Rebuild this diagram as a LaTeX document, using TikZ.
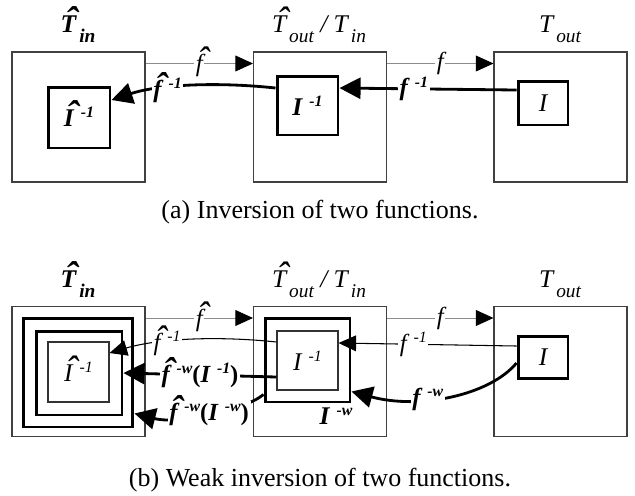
\documentclass[tikz,border=0pt]{standalone}
\usepackage{fontspec}
\usepackage{graphicx}
\setmainfont{Liberation Serif}
\usetikzlibrary{arrows.meta}

\newcommand\hatl[1]{\ooalign{#1\cr\hidewidth\kern0.3em\raisebox{-0.04em}{\scalebox{1.5}{\char"02C6}}\hidewidth\cr}}
\newcommand\sub[1]{\kern0.12em\raisebox{-0.42em}{\fontsize{11}{11}\selectfont #1}}
\newcommand\sps[1]{\kern0.28em\raisebox{0.36em}{\fontsize{9}{9}\selectfont #1}}

\begin{document}
\begin{tikzpicture}[x=0.02cm, y=-0.02cm,
        spacebox/.style={draw=black!75, line width=0.6pt, minimum width=2.66cm, minimum height=2.6cm, inner sep=0pt},
        heavybox/.style={draw, line width=1.7pt, inner sep=0pt, font=\fontsize{14.5}{16}\selectfont\bfseries\itshape},
        lightbox/.style={draw=black!80, line width=0.6pt, inner sep=0pt, font=\fontsize{14.5}{16}\selectfont\itshape},
        boxtitle/.style={anchor=base, inner sep=0pt, font=\fontsize{14.5}{16}\selectfont\itshape},
        fwd/.style={draw=black!45, line width=0.5pt, -{Triangle[length=10pt, width=9pt, black]}},
        back/.style={line width=0.6pt, -{Triangle[length=10pt, width=9pt]}},
        boldback/.style={line width=1.6pt, -{Triangle[length=12pt, width=12pt]}},
        lab/.style={fill=white, inner sep=1pt, font=\fontsize{14}{16}\selectfont\itshape},
        labb/.style={lab, font=\fontsize{14}{16}\selectfont\bfseries\itshape},
        capt/.style={inner sep=0pt, font=\fontsize{14.8}{17}\selectfont},
    ]
        \useasboundingbox (0,0) rectangle (635,495);

        % (a)
        \node[spacebox] (tin) at (78.5,117) {};
        \node[spacebox] (tmid) at (320,117) {};
        \node[spacebox] (tout) at (560.5,117) {};
        \node[boxtitle] (ttin) at (78,32) {\bfseries\hatl{T}\sub{in}};
        \node[boxtitle] (ttmid) at (319,32) {\hatl{T}\sub{out} / T\sub{in}};
        \node[boxtitle] (ttout) at (560,32) {T\sub{out}};

        \node[heavybox, minimum width=1.24cm, minimum height=1.22cm] (ihat) at (79,117.5) {\hatl{I}\sps{-1}};
        \node[heavybox, minimum width=1.22cm, minimum height=1.18cm] (iinv) at (307.5,105.5) {I\sps{-1}};
        \node[heavybox, font=\fontsize{14.5}{16}\selectfont\itshape, minimum width=1.0cm, minimum height=0.88cm] (ione) at (543,103) {I};

        \draw[fwd] ([yshift=-0.24cm]tin.north east) -- node[lab] {\hatl{f}} ([yshift=-0.24cm]tmid.north west);
        \draw[fwd] ([yshift=-0.24cm]tmid.north east) -- node[lab] {f} ([yshift=-0.24cm]tout.north west);
        \draw[boldback] ([yshift=0.26cm]ione.west) -- node[labb, pos=0.58] {f\sps{-1}} ([yshift=0.35cm]iinv.east);
        \draw[boldback] ([yshift=0.35cm]iinv.west) .. controls (220,82) and (160,84) .. node[labb, pos=0.64] {\hatl{f}\sps{-1}} ([yshift=0.35cm]ihat.east);

        \node[capt] (capa) at (320,212) {(a) Inversion of two functions.};

        % (b)
        \node[spacebox] (win) at (78.5,371.5) {};
        \node[spacebox] (wmid) at (320,371.5) {};
        \node[spacebox] (wout) at (560.5,371.5) {};
        \node[boxtitle] (twin) at (78,287) {\bfseries\hatl{T}\sub{in}};
        \node[boxtitle] (twmid) at (319,287) {\hatl{T}\sub{out} / T\sub{in}};
        \node[boxtitle] (twout) at (560,287) {T\sub{out}};

        \node[heavybox, minimum width=2.2cm, minimum height=2.18cm] (wrim) at (78,372.5) {};
        \node[heavybox, minimum width=1.72cm, minimum height=1.68cm] (wcore) at (79,373) {};
        \node[lightbox, minimum width=1.22cm, minimum height=1.2cm] (whatinv) at (78.5,372) {\hatl{I}\sps{-1}};
        \node[heavybox, minimum width=1.7cm, minimum height=1.68cm] (wiw) at (307.5,360) {};
        \node[lightbox, minimum width=1.22cm, minimum height=1.18cm] (winv) at (307.5,360.5) {I\sps{-1}};
        \node[heavybox, font=\fontsize{14.5}{16}\selectfont\itshape, minimum width=1.0cm, minimum height=0.84cm] (wone) at (543,357) {I};
        \node[labb, fill=none, font=\fontsize{14.5}{16}\selectfont\bfseries\itshape] (wiwlab) at (336,416) {I\sps{-w}};

        \draw[fwd] ([yshift=-0.24cm]win.north east) -- node[lab] {\hatl{f}} ([yshift=-0.24cm]wmid.north west);
        \draw[fwd] ([yshift=-0.24cm]wmid.north east) -- node[lab] {f} ([yshift=-0.24cm]wout.north west);
        \draw[back] ([yshift=0.22cm]wone.west) -- node[lab, pos=0.58] {f\sps{-1}} ([yshift=0.35cm]winv.east);
        \draw[back] ([yshift=0.37cm]winv.west) .. controls (220,336) and (160,338) .. node[lab, pos=0.64] {\hatl{f}\sps{-1}} ([yshift=0.38cm]whatinv.east);
        \draw[boldback] ([yshift=-0.33cm]winv.west) -- node[labb] {\hatl{f}\sps{-w}\textup{(}I\sps{-1}\textup{)}} (wcore.east);
        \draw[boldback] ([yshift=0.18cm]wiw.south west) .. controls (245,410) and (180,425) .. node[labb, pos=0.5] {\hatl{f}\sps{-w}\textup{(}I\sps{-w}\textup{)}} ([yshift=0.3cm]wrim.south east);
        \draw[boldback] ([yshift=-0.12cm]wone.west) .. controls (490,395) and (420,410) .. node[labb, pos=0.62] {f\sps{-w}} ([yshift=0.24cm]wiw.south east);

        \node[capt] (capb) at (320,480) {(b) Weak inversion of two functions.};
    \end{tikzpicture}
\end{document}
